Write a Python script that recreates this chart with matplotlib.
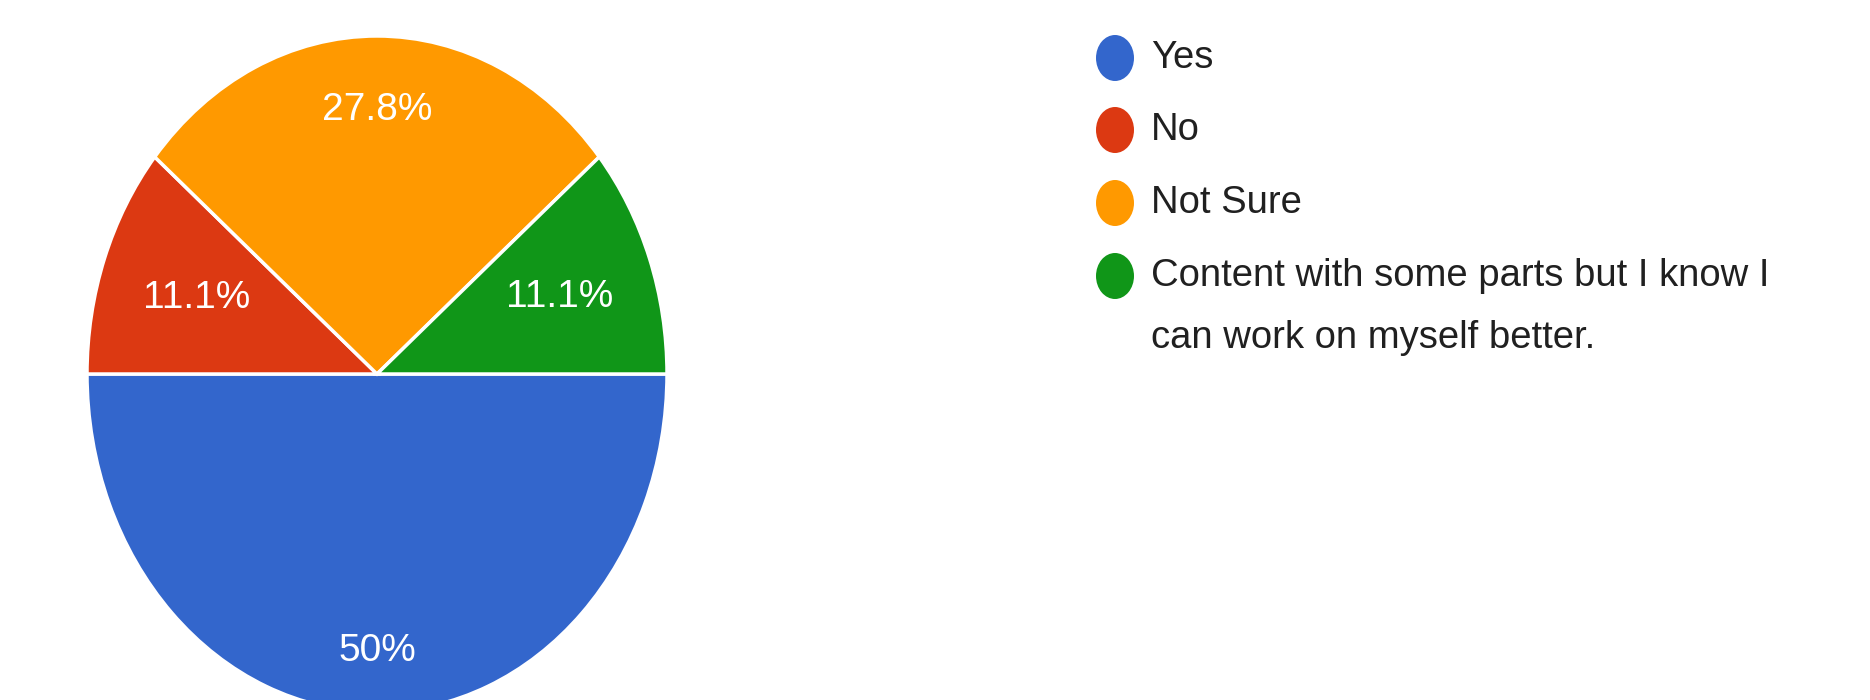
import matplotlib
matplotlib.use("Agg")
import matplotlib.pyplot as plt
from matplotlib.patches import Ellipse
import numpy as np

categories = ["Yes", "No", "Not Sure", "Content with some parts but I know I\ncan work on myself better."]
values = [50.0, 11.1, 27.8, 11.1]
colors = ["#3366cc", "#dc3912", "#ff9900", "#109618"]
label_dist = [0.82, 0.66, 0.78, 0.67]

plt.rcParams['font.family'] = ['Liberation Sans', 'DejaVu Sans']

W, H = 1870, 700
fig = plt.figure(figsize=(W / 100, H / 100), dpi=100)
fig.patch.set_facecolor("white")

# pie axes (elliptical pie: rx=290px, ry=336px, centre at (377, 373) from top-left)
cx, cy, rx, ry = 377, 374, 290, 338
ax = fig.add_axes([(cx - rx) / W, (H - cy - ry) / H, 2 * rx / W, 2 * ry / H])
wedges, _ = ax.pie(values, colors=colors, startangle=0, counterclock=False,
                   wedgeprops=dict(edgecolor="white", linewidth=2.5))
ax.set_aspect("auto")
ax.set_xlim(-1, 1)
ax.set_ylim(-1, 1)
ax.axis("off")

for w, v, d in zip(wedges, values, label_dist):
    ang = np.deg2rad((w.theta1 + w.theta2) / 2)
    ax.text(d * np.cos(ang), d * np.sin(ang), f"{v:g}%", color="white",
            fontsize=28, ha="center", va="center")

# legend drawn manually
leg_x = 1115
leg_ys = [58, 130, 203, 276]
for (lab, col, y) in zip(categories, colors, leg_ys):
    e = Ellipse((leg_x / W, 1 - y / H), 38 / W, 46 / H, transform=fig.transFigure,
                facecolor=col, edgecolor="none")
    fig.patches.append(e)
    lines = lab.split("\n")
    for j, line in enumerate(lines):
        fig.text(1151 / W, 1 - (y + j * 62) / H, line, fontsize=27.5, color="#202020",
                 ha="left", va="center")

fig.savefig("out.png", dpi=100, facecolor="white")
